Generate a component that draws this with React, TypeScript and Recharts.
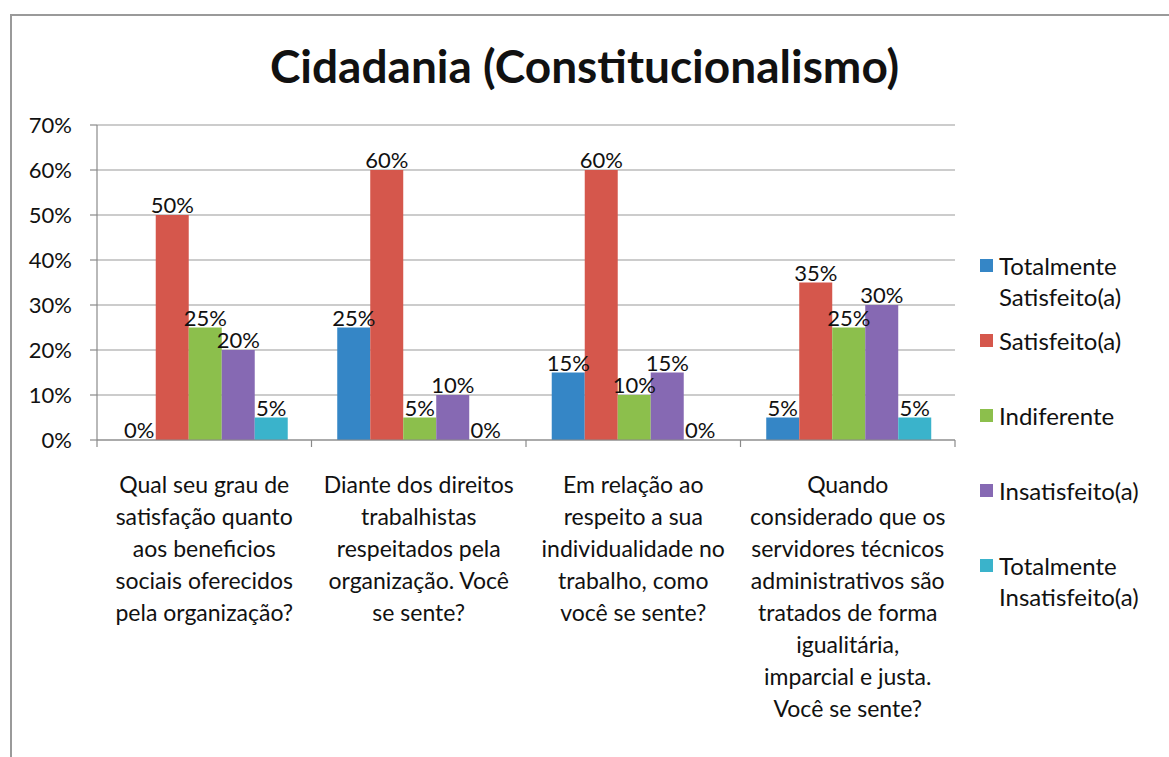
import React from "react";
import { BarChart, Bar, XAxis, YAxis, CartesianGrid, Legend, LabelList } from "recharts";

const categories = [
  "Qual seu grau de\nsatisfação quanto\naos beneficios\nsociais oferecidos\npela organização?",
  "Diante dos direitos\ntrabalhistas\nrespeitados pela\norganização. Você\nse sente?",
  "Em relação ao\nrespeito a sua\nindividualidade no\ntrabalho, como\nvocê se sente?",
  "Quando\nconsiderado que os\nservidores técnicos\nadministrativos são\ntratados de forma\nigualitária,\nimparcial e justa.\nVocê se sente?",
];
const totalmenteSatisfeito = [0, 25, 15, 5];
const satisfeito = [50, 60, 60, 35];
const indiferente = [25, 5, 10, 25];
const insatisfeito = [20, 10, 15, 30];
const totalmenteInsatisfeito = [5, 0, 0, 5];
const yTicks = [0, 10, 20, 30, 40, 50, 60, 70];

const seriesNames = [
  "Totalmente Satisfeito(a)",
  "Satisfeito(a)",
  "Indiferente",
  "Insatisfeito(a)",
  "Totalmente Insatisfeito(a)",
];
const legendLines = [
  ["Totalmente", "Satisfeito(a)"],
  ["Satisfeito(a)"],
  ["Indiferente"],
  ["Insatisfeito(a)"],
  ["Totalmente", "Insatisfeito(a)"],
];
const colors = ["#3586C6", "#D5574C", "#8CBF4C", "#8669B3", "#3AB3CB"];

const data = categories.map((c, i) => ({
  name: c,
  s0: totalmenteSatisfeito[i],
  s1: satisfeito[i],
  s2: indiferente[i],
  s3: insatisfeito[i],
  s4: totalmenteInsatisfeito[i],
}));

const FONT = "Lato, 'Open Sans', sans-serif";
const AXIS = "#8a8a8a";

const XTick = (props: any) => {
  const { x, y, payload, index } = props;
  const lines = String(payload.value).split("\n");
  const half = Number(payload && payload.offset) || 0;
  const isLast = index === categories.length - 1;
  return (
    <g>
      {half > 0 && <line x1={x - half} x2={x - half} y1={y} y2={y + 7} stroke={AXIS} strokeWidth={1.2} />}
      {half > 0 && isLast && <line x1={x + half} x2={x + half} y1={y} y2={y + 7} stroke={AXIS} strokeWidth={1.2} />}
      <text x={x} y={y} textAnchor="middle" fontSize={23} fontFamily={FONT} fill="#111">
        {lines.map((l, i) => (
          <tspan key={i} x={x} dy={i === 0 ? 53 : 32}>
            {l}
          </tspan>
        ))}
      </text>
    </g>
  );
};

const BarLabel = (props: any) => {
  const { x, y, width, value } = props;
  return (
    <text x={Number(x) + Number(width) / 2} y={Number(y) - 2} textAnchor="middle" fontSize={22} fontFamily={FONT} fill="#111">
      {`${value}%`}
    </text>
  );
};

const renderLegend = () => (
  <div style={{ fontFamily: FONT, fontSize: 24, color: "#111", width: 189 }}>
    {legendLines.map((lines, i) => (
      <div key={i} style={{ height: 75, display: "flex", alignItems: "flex-start" }}>
        <div style={{ width: 13, height: 13, background: colors[i], marginTop: 9, marginRight: 6, flex: "none" }} />
        <div style={{ lineHeight: "31px" }}>
          {lines.map((l, j) => (
            <div key={j}>{l}</div>
          ))}
        </div>
      </div>
    ))}
  </div>
);

export default function App() {
  return (
    <div style={{ position: "absolute", left: 0, top: 0, width: 1169, height: 757, background: "#fff", overflow: "hidden" }}>
      <div
        style={{
          position: "absolute",
          left: 10,
          top: 14,
          right: -5,
          bottom: -5,
          borderLeft: "2px solid #9a9a9a",
          borderTop: "2px solid #9a9a9a",
        }}
      />
      <div
        style={{
          position: "absolute",
          left: 0,
          top: 38,
          width: 1169,
          textAlign: "center",
          fontFamily: FONT,
          fontWeight: 700,
          fontSize: 46,
          lineHeight: "56px",
          color: "#111",
        }}
      >
        Cidadania (Constitucionalismo)
      </div>
      <div style={{ position: "absolute", left: 0, top: 0 }}>
        <BarChart
          width={1169}
          height={757}
          data={data}
          margin={{ top: 125, right: 25, bottom: 0, left: 0 }}
          barCategoryGap="12%"
          barGap={0}
        >
          <CartesianGrid vertical={false} stroke="#9a9a9a" strokeWidth={1.2} />
          <XAxis
            dataKey="name"
            interval={0}
            tick={<XTick />}
            tickLine={false}
            tickSize={0}
            tickMargin={0}
            axisLine={{ stroke: AXIS, strokeWidth: 1.2 }}
            height={317}
          />
          <YAxis
            domain={[0, 70]}
            ticks={yTicks}
            width={97}
            tickFormatter={(v: number) => `${v}%`}
            tick={{ fontSize: 22, fontFamily: FONT, fill: "#111" }}
            tickLine={{ stroke: AXIS, strokeWidth: 1.2 }}
            tickSize={7}
            tickMargin={18}
            axisLine={{ stroke: AXIS, strokeWidth: 1.2 }}
          />
          <Legend
            content={renderLegend}
            layout="vertical"
            align="right"
            verticalAlign="middle"
            width={189}
            wrapperStyle={{ left: 980, top: 250, width: 189 }}
          />
          {["s0", "s1", "s2", "s3", "s4"].map((k, i) => (
            <Bar
              key={k}
              dataKey={k}
              name={seriesNames[i]}
              fill={colors[i]}
              minPointSize={0.01}
              isAnimationActive={false}
            >
              <LabelList dataKey={k} content={<BarLabel />} />
            </Bar>
          ))}
        </BarChart>
      </div>
    </div>
  );
}
